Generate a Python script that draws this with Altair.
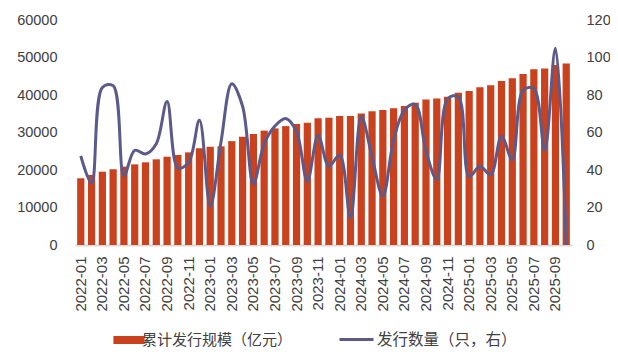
import altair as alt
import pandas as pd

months = [f"{y}-{m:02d}" for y in range(2022, 2026) for m in range(1, 13)][:46]

scale_vals = [17800, 18700, 19550, 20200, 20900, 21500, 22050, 22850, 23550, 24000,
              24700, 25800, 26200, 26300, 27700, 28900, 29600, 30500, 31100, 31700,
              32300, 32600, 33800, 33950, 34400, 34400, 35100, 35700, 36000, 36450,
              37050, 37950, 38800, 39050, 39550, 40600, 41050, 42050, 42600, 43750,
              44450, 45600, 46850, 47100, 48000, 48400]

count_vals = [47.5, 33, 84, 85, 37, 50.5, 48.5, 54, 76.5, 41,
              44, 66.5, 20.5, 55, 86, 74, 32.5, 54, 63.5, 67.5,
              60.5, 34, 58.5, 42, 48, 14.5, 68.5, 47, 26, 56,
              72, 75, 50, 35, 78, 79, 36.5, 42, 37.5, 58,
              45.5, 82.5, 83.5, 50.5, 105, 0]

tick_labels = months[::2]

df = pd.DataFrame({"month": months, "scale": scale_vals, "count": count_vals,
                   "s1": "累计发行规模（亿元）", "s2": "发行数量（只，右）"})

FONT = "Liberation Sans"
xenc = alt.X("month:N", sort=months,
             scale=alt.Scale(paddingInner=0.33, paddingOuter=0.2),
             axis=alt.Axis(title=None, values=tick_labels, labelAngle=270,
                           labelFontSize=15, labelColor="#404040", labelFont=FONT,
                           ticks=False, domainColor="#D9D9D9", domainWidth=2,
                           labelPadding=11))

bars = alt.Chart(df).mark_bar(color="#C9421D").encode(
    x=xenc,
    y=alt.Y("scale:Q", scale=alt.Scale(domain=[0, 60000]),
            axis=alt.Axis(title=None, values=[0, 10000, 20000, 30000, 40000, 50000, 60000],
                          format="d", grid=False, ticks=False, domain=False, labelFontSize=14.5,
                          labelColor="#404040", labelFont=FONT, labelPadding=18)),
    fill=alt.Fill("s1:N", scale=alt.Scale(range=["#C9421D"]),
                  legend=alt.Legend(title=None, orient="none", legendX=46, legendY=312,
                                    symbolType="M-1.95,-0.5H1.95V0.5H-1.95Z", symbolSize=256,
                                    labelFontSize=15, labelColor="#404040", labelFont="Noto Sans CJK SC",
                                    symbolStrokeWidth=0, labelOffset=5, labelLimit=400)),
)

line = alt.Chart(df).mark_line(interpolate="catmull-rom", strokeWidth=3).encode(
    x=alt.X("month:N", sort=months),
    y=alt.Y("count:Q", scale=alt.Scale(domain=[0, 120]),
            axis=alt.Axis(title=None, orient="right", values=[0, 20, 40, 60, 80, 100, 120],
                          grid=False, ticks=False, domain=False, labelFontSize=14.5,
                          labelColor="#404040", labelFont=FONT, labelPadding=14)),
    stroke=alt.Stroke("s2:N", scale=alt.Scale(range=["#5B5A8A"]),
                      legend=alt.Legend(title=None, orient="none", legendX=263, legendY=301,
                                        symbolType="stroke", symbolSize=1156, symbolStrokeWidth=3,
                                        labelFontSize=15.5, labelColor="#404040", labelFont="Noto Sans CJK SC",
                                        labelOffset=2, labelLimit=400)),
)

chart = alt.layer(bars, line).resolve_scale(y="independent", fill="independent",
                                           stroke="independent").properties(
    width=497, height=225,
    autosize=alt.AutoSizeParams(type="none"),
    padding={"left": 67, "top": 12, "right": 38, "bottom": 104},
).configure_view(stroke=None)

chart.save("out.html", embed_options={"renderer": "svg", "actions": False})
